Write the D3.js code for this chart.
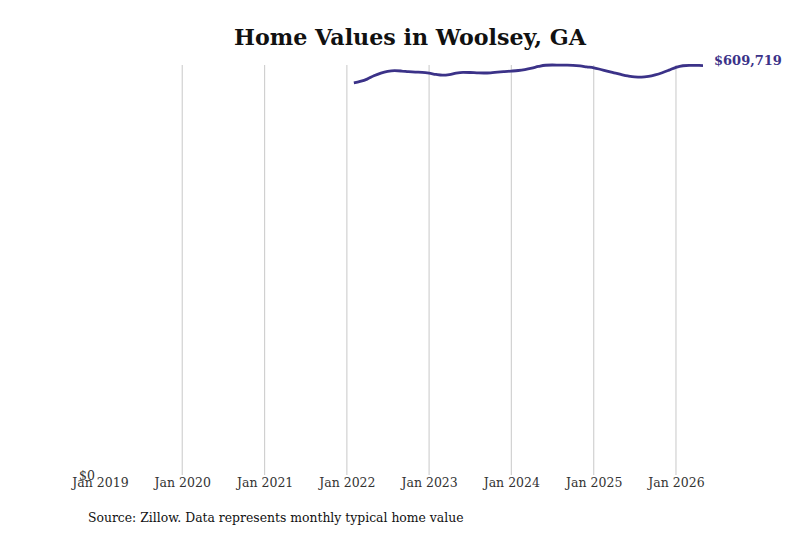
<!DOCTYPE html>
<html>
<head>
<meta charset="utf-8">
<script src="https://cdn.jsdelivr.net/npm/d3@7"></script>
<style>
  body { margin: 0; background: #fff; }
  svg { font-family: "DejaVu Serif", serif; }
</style>
</head>
<body>
<div id="chart"></div>
<script>
const FRAME_WIDTH = 800;
const FRAME_HEIGHT = 533;
const MARGINS = { left: 100, right: 97, top: 65, bottom: 58 };

const VIS_WIDTH = FRAME_WIDTH - MARGINS.left - MARGINS.right;
const VIS_HEIGHT = FRAME_HEIGHT - MARGINS.top - MARGINS.bottom;

// monthly typical home value, Feb 2022 - May 2026
const START_MONTH = "2022-02";
const VALUES = [
	583800, 586000, 589500, 594500, 598500, 601000, 602000, 601500, 600600, 599900, 599500,
	598300, 596500, 595500, 596300, 598400, 599400, 599300, 598900, 598600, 598900, 599900, 600700,
	601400, 602300, 603700, 605800, 608300, 610100, 610500, 610400, 610300, 610000, 609100, 607700,
	606300, 603800, 601400, 598900, 596500, 594200, 592700, 592400, 593500, 595800, 599000, 602800,
	607000, 609400, 610000, 609900, 609719
];
const TICK_YEARS = [2019, 2020, 2021, 2022, 2023, 2024, 2025, 2026];

const parseMonth = d3.timeParse("%Y-%m");
const start = parseMonth(START_MONTH);
const data = VALUES.map((v, i) => ({ date: d3.timeMonth.offset(start, i), value: v }));

const FRAME = d3.select("#chart")
	.append("svg")
	.attr("width", FRAME_WIDTH)
	.attr("height", FRAME_HEIGHT);

const X_SCALE = d3.scaleTime()
	.domain([new Date(2019, 0, 1), new Date(2026, 4, 1)])
	.range([0, VIS_WIDTH]);

const Y_SCALE = d3.scaleLinear()
	.domain([0, d3.max(VALUES)])
	.range([VIS_HEIGHT, 0]);

const VIS = FRAME.append("g")
	.attr("transform", `translate(${MARGINS.left}, ${MARGINS.top})`);

// vertical gridlines (none at the first tick)
const tickDates = TICK_YEARS.map((y) => new Date(y, 0, 1));
VIS.selectAll(".grid")
	.data(tickDates.slice(1))
	.enter()
	.append("line")
	.attr("x1", (d) => X_SCALE(d))
	.attr("x2", (d) => X_SCALE(d))
	.attr("y1", 0)
	.attr("y2", VIS_HEIGHT)
	.attr("stroke", "#c8c8c8")
	.attr("stroke-width", 1);

// x axis labels
const X_AXIS = d3.axisBottom(X_SCALE)
	.tickValues(tickDates)
	.tickFormat(d3.timeFormat("Jan %Y"))
	.tickSize(0)
	.tickPadding(3);

const xg = VIS.append("g")
	.attr("transform", `translate(0, ${VIS_HEIGHT})`)
	.call(X_AXIS);
xg.select(".domain").remove();
xg.selectAll("text")
	.attr("font-family", "DejaVu Serif")
	.attr("font-size", 12.5)
	.attr("fill", "#333");

// y axis: only $0
const Y_AXIS = d3.axisLeft(Y_SCALE)
	.tickValues([0])
	.tickFormat((d) => "$" + d3.format(",")(d))
	.tickSize(0)
	.tickPadding(5);

const yg = VIS.append("g").call(Y_AXIS);
yg.select(".domain").remove();
yg.selectAll("text")
	.attr("font-family", "DejaVu Serif")
	.attr("font-size", 12.5)
	.attr("fill", "#333");

// line
const LINE = d3.line()
	.x((d) => X_SCALE(d.date))
	.y((d) => Y_SCALE(d.value))
	.curve(d3.curveMonotoneX);

VIS.append("path")
	.datum(data)
	.attr("fill", "none")
	.attr("stroke", "#3b3288")
	.attr("stroke-width", 2.8)
	.attr("d", LINE);

// end label
const last = data[data.length - 1];
VIS.append("text")
	.attr("x", X_SCALE(last.date) + 11)
	.attr("y", Y_SCALE(last.value) - 0.5)
	.attr("font-size", 13)
	.attr("font-weight", "bold")
	.attr("fill", "#3b3288")
	.text("$" + d3.format(",")(last.value));

// title
FRAME.append("text")
	.attr("x", 410)
	.attr("y", 45)
	.attr("text-anchor", "middle")
	.attr("font-size", 22.2)
	.attr("font-weight", "bold")
	.attr("fill", "#111")
	.text("Home Values in Woolsey, GA");

// source
FRAME.append("text")
	.attr("x", 88)
	.attr("y", 522)
	.attr("font-size", 12.4)
	.attr("fill", "#111")
	.text("Source: Zillow. Data represents monthly typical home value");
</script>
</body>
</html>
